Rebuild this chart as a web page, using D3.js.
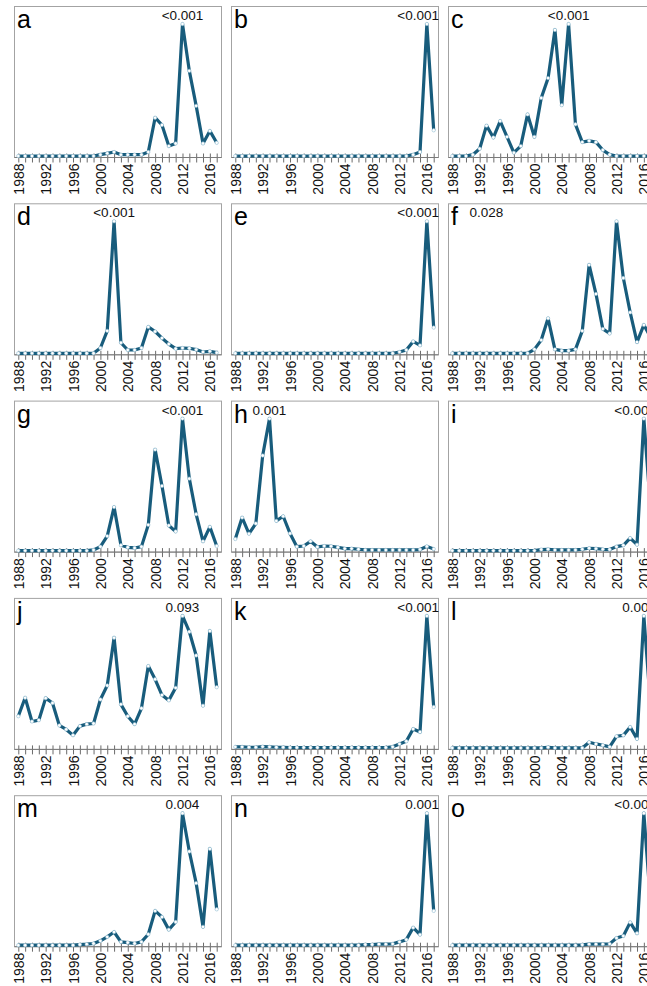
<!DOCTYPE html>
<html>
<head>
<meta charset="utf-8">
<script src="https://cdn.jsdelivr.net/npm/d3@7/dist/d3.min.js"></script>
<style>
  body { margin: 0; background: #fff; }
  svg { display: block; font-family: "Liberation Sans", Arial, sans-serif; }
</style>
</head>
<body>
<div class="chart"></div>
<script>
// years on the x axis
var years = [1988,1989,1990,1991,1992,1993,1994,1995,1996,1997,1998,1999,2000,2001,2002,
             2003,2004,2005,2006,2007,2008,2009,2010,2011,2012,2013,2014,2015,2016,2017];
var yearLabels = [1988,1992,1996,2000,2004,2008,2012,2016];

var letters = ["a","b","c","d","e","f","g","h","i","j","k","l","m","n","o"];
var pValues = ["<0.001","<0.001","<0.001","<0.001","<0.001","0.028","<0.001","0.001","<0.001",
               "0.093","<0.001","0.001","0.004","0.001","<0.001"];
// year the p-value text is centred on
var pYears = [2012,2016,2005,2002,2016,1993,2012,1993,2016,2012,2016,2016,2012,2016,2016];

// relative values (peak = 1), 1988..2017
var serA = [0,0,0,0,0,0,0,0,0,0,0,0,0.01,0.02,0.03,0.01,0.01,0.01,0.01,0.03,0.29,0.235,0.075,0.095,1.0,0.645,0.38,0.095,0.19,0.10];
var serB = [0,0,0,0,0,0,0,0,0,0,0,0,0,0,0,0,0,0,0,0,0,0,0,0,0,0,0.01,0.03,1.0,0.195];
var serC = [0,0,0,0.01,0.055,0.23,0.14,0.265,0.145,0.025,0.075,0.315,0.145,0.44,0.59,0.955,0.385,1.0,0.24,0.105,0.115,0.105,0.045,0.01,0,0,0,0,0,0];
var serD = [0,0,0,0,0,0,0,0,0,0,0,0,0.04,0.17,1.0,0.08,0.025,0.025,0.04,0.20,0.165,0.115,0.07,0.035,0.04,0.038,0.028,0.01,0.015,0.005];
var serE = [0,0,0,0,0,0,0,0,0,0,0,0,0,0,0,0,0,0,0,0,0,0,0,0,0.01,0.025,0.09,0.06,1.0,0.195];
var serF = [0,0,0,0,0,0,0,0,0,0,0,0,0.03,0.10,0.265,0.03,0.02,0.02,0.03,0.17,0.67,0.45,0.185,0.15,1.0,0.57,0.31,0.085,0.215,0.12];
var serG = [0,0,0,0,0,0,0,0,0,0,0,0.005,0.03,0.11,0.33,0.04,0.025,0.02,0.03,0.195,0.765,0.49,0.19,0.145,1.0,0.545,0.275,0.07,0.18,0.035];
var serH = [0.088,0.25,0.128,0.205,0.72,1.0,0.225,0.26,0.13,0.03,0.035,0.07,0.028,0.035,0.033,0.025,0.015,0.015,0.01,0.005,0.005,0.005,0.005,0.005,0.005,0.005,0.005,0.008,0.032,0.012];
var serI = [0,0,0,0,0,0,0,0,0,0,0,0,0,0.008,0.01,0.005,0.005,0.005,0.005,0.01,0.018,0.015,0.01,0.008,0.03,0.04,0.095,0.045,1.0,0.3];
var serJ = [0.24,0.38,0.2,0.21,0.377,0.34,0.17,0.14,0.096,0.165,0.18,0.185,0.367,0.473,0.835,0.33,0.24,0.18,0.30,0.62,0.52,0.40,0.36,0.455,1.0,0.88,0.70,0.32,0.886,0.46];
var serK = [0.008,0.008,0.005,0.005,0.01,0.008,0.005,0.005,0.003,0.003,0.003,0.003,0.003,0.003,0.003,0.003,0.003,0.003,0.003,0.003,0.003,0.003,0.003,0.008,0.03,0.05,0.143,0.12,1.0,0.31];
var serL = [0,0,0,0,0,0,0,0,0,0,0,0,0,0,0.005,0,0,0,0,0,0.043,0.03,0.02,0.008,0.088,0.095,0.158,0.068,1.0,0.3];
var serM = [0,0,0,0,0,0,0,0,0,0.005,0.008,0.013,0.033,0.063,0.10,0.025,0.02,0.013,0.025,0.083,0.26,0.214,0.118,0.176,1.0,0.71,0.47,0.139,0.73,0.272];
var serN = [0,0,0,0,0,0,0,0,0,0,0,0,0,0,0,0,0,0,0,0.005,0.005,0.008,0.008,0.01,0.025,0.042,0.133,0.08,1.0,0.26];
var serO = [0,0,0,0,0,0,0,0,0,0,0,0,0,0,0,0,0,0,0,0.003,0.008,0.008,0.008,0.01,0.054,0.07,0.173,0.09,1.0,0.3];

var allSeries = [serA,serB,serC,serD,serE,serF,serG,serH,serI,serJ,serK,serL,serM,serN,serO];

var W = 647, H = 986;
var boxW = 207, boxH = 151;
var colStep = 217, rowStep = 197.3;
var left0 = 14, top0 = 6;
var lineColor = "#185c7c";

var svg = d3.select(".chart").append("svg")
    .attr("width", W)
    .attr("height", H);

allSeries.forEach(function(values, i){
    var col = i % 3, row = Math.floor(i / 3);
    var px = left0 + col * colStep, py = top0 + row * rowStep;

    var x = d3.scaleLinear()
        .domain([1988, 2017])
        .range([px + 4.3, px + boxW - 4.3]);
    var y = d3.scaleLinear()
        .domain([0, d3.max(values)])
        .range([py + 150, py + 18]);

    var g = svg.append("g").attr("class", "panel");

    // frame
    g.append("rect")
        .attr("x", px + 0.5)
        .attr("y", py + 0.5)
        .attr("width", boxW)
        .attr("height", boxH)
        .attr("fill", "none")
        .attr("stroke", "#a3a3a3");

    // x axis with a tick every year, label every 4
    var axis = d3.axisBottom(x)
        .tickValues(years)
        .tickSize(5)
        .tickSizeOuter(0)
        .tickFormat(function(d){ return yearLabels.indexOf(d) >= 0 ? d : ""; });

    var ax = g.append("g")
        .attr("transform", "translate(0," + (py + boxH + 0.5) + ")")
        .call(axis);
    ax.select(".domain").remove();
    ax.append("line")
        .attr("x1", px + 0.5).attr("x2", px + boxW + 0.5)
        .attr("stroke", "#7a7a7a");
    ax.selectAll(".tick line")
        .attr("y1", -4)
        .attr("stroke", "#6b6b6b");
    ax.selectAll(".tick text")
        .attr("font-size", "14px")
        .attr("font-family", "Liberation Sans, Arial, sans-serif")
        .attr("fill", "#111")
        .attr("text-anchor", "end")
        .attr("transform", "rotate(-90)")
        .attr("x", -6)
        .attr("y", 0)
        .attr("dy", "0.36em");

    // series line
    var line = d3.line()
        .x(function(d, k){ return x(years[k]); })
        .y(function(d){ return y(d); });

    g.append("path")
        .datum(values)
        .attr("d", line)
        .attr("fill", "none")
        .attr("stroke", lineColor)
        .attr("stroke-width", 3.2)
        .attr("stroke-linejoin", "round");

    g.selectAll("circle")
        .data(values)
        .enter()
        .append("circle")
        .attr("cx", function(d, k){ return x(years[k]); })
        .attr("cy", function(d){ return y(d); })
        .attr("r", 1.7)
        .attr("fill", "#fff")
        .attr("stroke", "#8fbcd2")
        .attr("stroke-width", 0.6);

    // panel letter
    g.append("text")
        .attr("x", px + 3)
        .attr("y", py + 22)
        .attr("font-size", "25px")
        .attr("fill", "#000")
        .text(letters[i]);

    // p-value, centred on its year and kept inside the frame
    var pt = g.append("text")
        .attr("x", x(pYears[i]))
        .attr("y", py + 14)
        .attr("font-size", "13.5px")
        .attr("fill", "#111")
        .attr("text-anchor", "middle")
        .text(pValues[i]);
    var tw = pt.node().getComputedTextLength();
    if (x(pYears[i]) + tw / 2 > px + boxW + 1) {
        pt.attr("text-anchor", "end").attr("x", px + boxW + 1);
    }
});
</script>
</body>
</html>
